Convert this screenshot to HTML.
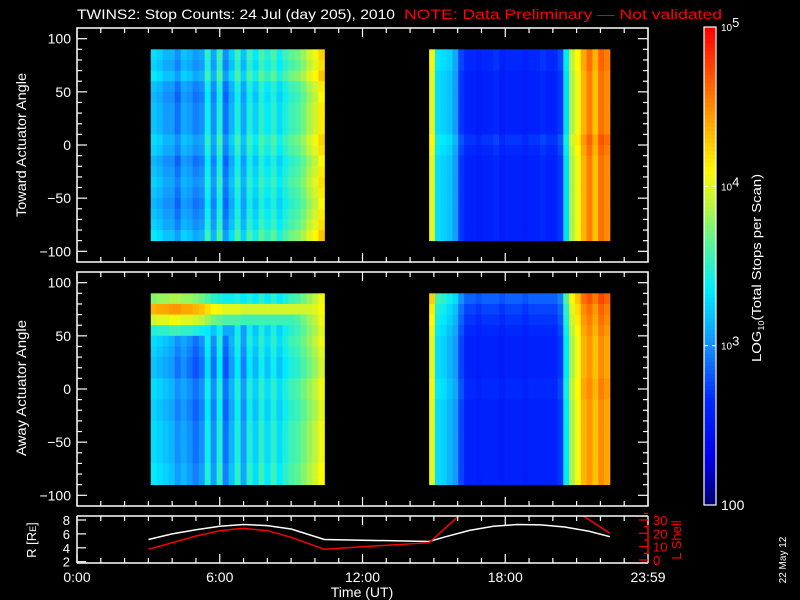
<!DOCTYPE html>
<html><head><meta charset="utf-8"><style>
html,body{margin:0;padding:0;background:#000;}
svg{display:block;font-family:"Liberation Sans",sans-serif;}
</style></head><body>
<svg id="chart" width="800" height="600" viewBox="0 0 800 600" xmlns="http://www.w3.org/2000/svg">
<rect x="0" y="0" width="800" height="600" fill="#000"/>
<text x="77" y="19" fill="#fff" font-size="14" textLength="318" lengthAdjust="spacingAndGlyphs">TWINS2: Stop Counts: 24 Jul (day 205), 2010</text>
<text x="404" y="19" fill="#ff0000" font-size="14" textLength="318" lengthAdjust="spacingAndGlyphs">NOTE: Data Preliminary — Not validated</text>
<g id="p1"></g>
<g id="p2"></g>
<g id="p3"></g>
<g id="cb"></g>
<text transform="translate(26,145) rotate(-90)" text-anchor="middle" fill="#fff" font-size="14" textLength="144" lengthAdjust="spacingAndGlyphs">Toward Actuator Angle</text>
<text transform="translate(26,388) rotate(-90)" text-anchor="middle" fill="#fff" font-size="14" textLength="136" lengthAdjust="spacingAndGlyphs">Away Actuator Angle</text>
<text transform="translate(36,540) rotate(-90)" text-anchor="middle" fill="#fff" font-size="13">R [R<tspan font-size="9">E</tspan>]</text>
<text transform="translate(681,540) rotate(-90)" text-anchor="middle" fill="#ff0000" font-size="13">L Shell</text>
<text x="362" y="597" text-anchor="middle" fill="#fff" font-size="14">Time (UT)</text>
<text transform="translate(786,560) rotate(-90)" text-anchor="middle" fill="#fff" font-size="10">22 May 12</text>
<text transform="translate(761,268) rotate(-90)" text-anchor="middle" fill="#fff" font-size="13" textLength="188" lengthAdjust="spacingAndGlyphs">LOG<tspan font-size="8" dy="3">10</tspan><tspan dy="-3">(Total Stops per Scan)</tspan></text>
</svg>
<script>
// ---------- data ----------
const xTickLabels = ["0:00","6:00","12:00","18:00","23:59"];
const xTickHours = [0,6,12,18,24];
const angleTicks = [100,50,0,-50,-100];
const rTicks = [2,4,6,8];
const lTicks = [0,10,20,30];
const cbTickLabels = ["100","10","10","10"];
const cbTickExps = ["","3","4","5"];
const cbTickValues = [2,3,4,5];

// spectrogram blocks: start hour, end hour, column log10 values
const p1b1Start = 3.1, p1b1End = 10.4;
const p1b1Vals = [3.2,3.15,3.05,3.05,2.9,3.1,3.05,2.95,3.0,3.4,3.0,3.45,2.9,3.15,3.45,3.1,3.45,3.25,3.5,3.35,3.5,3.3,3.45,3.55,3.6,3.7,3.85,3.95,4.15];
const p1b1Rows = [0.1,0.05,0.15,0,-0.05,0,0,0,0.1,0.05,-0.05,0,0.05,0,-0.05,0,0.05,0.15];
const p1b2Start = 14.8, p1b2End = 22.4;
const p1b2Vals = [4.0,3.3,3.25,3.2,3.05,2.7,2.6,2.6,2.55,2.6,2.6,2.65,2.55,2.6,2.6,2.6,2.55,2.6,2.6,2.65,2.6,2.6,2.7,3.3,3.85,4.05,4.35,4.55,4.3,4.6,4.5];
const p1b2Rows = [0.05,0.05,0,0,0,0,0,0,0.1,0.05,0,0,0,0,0,0,0,0];
const p2b1Start = 3.1, p2b1End = 10.4;
const p2b1Vals = [3.3,3.25,3.2,3.15,3.0,3.1,3.0,2.9,3.0,3.4,3.0,3.45,2.9,3.15,3.45,3.05,3.45,3.25,3.5,3.3,3.5,3.3,3.45,3.55,3.6,3.7,3.8,3.9,4.05];
const p2b1Rows = [0,0,0,-0.05,0,-0.05,-0.1,-0.1,0,0,-0.05,-0.05,0,0,0,0,0.05,0.05];
const p2b1Band = [4.35,4.4,4.4,4.45,4.45,4.4,4.4,4.35,4.3,4.2,4.1,4.05,4.0,4.0,4.0,3.95,3.95,3.95,3.95,3.95,3.95,3.95,3.95,3.95,3.95,3.95,3.95,4.0,4.1];
const p2b1BandRows = [-0.6,0,-0.4,-0.9,-5,-5,-5,-5,-5,-5,-5,-5,-5,-5,-5,-5,-5,-5];
const p2b2Start = 14.8, p2b2End = 22.4;
const p2b2Vals = [4.0,3.3,3.25,3.15,3.05,2.75,2.6,2.6,2.55,2.6,2.6,2.6,2.55,2.6,2.6,2.6,2.55,2.6,2.6,2.6,2.6,2.6,2.7,3.35,3.85,4.05,4.35,4.45,4.3,4.5,4.4];
const p2b2Rows = [0.25,0.15,0.1,0.05,0,0,0,0,0.05,0.05,0,0,0,0,0,0,0,0];

// orbit curves
const rHours = [3.0,4,5,6,7,8,9,10.4,12,14.8,15.5,16.5,17.5,18.5,19.5,20.5,21.5,22.4];
const rVals  = [5.2,6.0,6.6,7.1,7.35,7.2,6.7,5.2,5.1,4.9,5.6,6.5,7.1,7.35,7.3,7.0,6.4,5.6];
const lHours = [3.0,4,5,6,7,8,9,10.4,12,14.8,16.1];
const lVals  = [8,13,18,22,23.8,22,17,8,10,13,34];
const l2Hours = [21.2,22.4];
const l2Vals  = [34,20];

// ---------- helpers ----------
const NS="http://www.w3.org/2000/svg";
function mk(tag,attrs,parent){const e=document.createElementNS(NS,tag);for(const k in attrs)e.setAttribute(k,attrs[k]);parent.appendChild(e);return e;}
const X0=77,X1=648;
function xScale(h){return X0+(X1-X0)*h/24;}
const stops=[[0,[0,0,110]],[0.1,[0,0,235]],[0.22,[0,40,255]],[0.33,[20,140,255]],[0.45,[0,235,255]],[0.55,[90,245,150]],[0.63,[190,245,60]],[0.7,[255,250,0]],[0.82,[255,150,0]],[0.95,[255,40,0]],[1,[250,0,0]]];
function color(v){let t=(v-2)/3;t=Math.max(0,Math.min(1,t));for(let i=1;i<stops.length;i++){if(t<=stops[i][0]){const a=stops[i-1],b=stops[i];const f=(t-a[0])/(b[0]-a[0]);const c=a[1].map((x,j)=>Math.round(x+(b[1][j]-x)*f));return `rgb(${c[0]},${c[1]},${c[2]})`;}}return "rgb(250,0,0)";}

function drawPanel(g,top,bottom,blocks,name){
  const yA=a=>top+10.7+(100-a)*(bottom-top-21.4)/200;
  for(const b of blocks){
    const n=b.vals.length, w=(xScale(b.end)-xScale(b.start))/n;
    for(let c=0;c<n;c++){
      for(let r=0;r<18;r++){
        let v=b.vals[c]+b.rows[r];
        if(b.band) v=Math.max(v,b.band[c]+b.bandRows[r]);
        const a0=90-r*10;
        const el=mk('rect',{x:(xScale(b.start)+c*w).toFixed(2),y:yA(a0).toFixed(2),width:(w+0.4).toFixed(2),height:(yA(a0-10)-yA(a0)+0.4).toFixed(2),fill:color(v)},g);
        
        
      }
    }
  }
  const fr=mk('rect',{x:X0,y:top,width:X1-X0,height:bottom-top,fill:'none',stroke:'#fff','stroke-width':1.5},g);
  
  
  for(let h=0;h<=24;h++){
    const x=xScale(h),len=(h%6==0)?9:5;
    mk('line',{x1:x,y1:bottom,x2:x,y2:bottom-len,stroke:'#fff','stroke-width':1.2},g);
    mk('line',{x1:x,y1:top,x2:x,y2:top+len,stroke:'#fff','stroke-width':1.2},g);
  }
  for(let a=-100;a<=100;a+=10){
    const y=yA(a),len=(a%50==0)?10:5;
    mk('line',{x1:X0,y1:y,x2:X0+len,y2:y,stroke:'#fff','stroke-width':1.2},g);
    mk('line',{x1:X1,y1:y,x2:X1-len,y2:y,stroke:'#fff','stroke-width':1.2},g);
  }
  angleTicks.forEach(a=>{
    const t=mk('text',{x:71,y:yA(a)+5,'text-anchor':'end',fill:'#fff','font-size':14},g);
    t.textContent=(a<0?'\u2212':'')+Math.abs(a);
    
    
  });
}

drawPanel(document.getElementById('p1'),28,262,[
 {start:p1b1Start,end:p1b1End,vals:p1b1Vals,rows:p1b1Rows},
 {start:p1b2Start,end:p1b2End,vals:p1b2Vals,rows:p1b2Rows}],'toward-panel');
drawPanel(document.getElementById('p2'),272,506,[
 {start:p2b1Start,end:p2b1End,vals:p2b1Vals,rows:p2b1Rows,band:p2b1Band,bandRows:p2b1BandRows},
 {start:p2b2Start,end:p2b2End,vals:p2b2Vals,rows:p2b2Rows}],'away-panel');

// orbit panel
(function(){
  const g=document.getElementById('p3');
  const T=516,B=563;
  const yR=r=>520+(8-r)*6.95;
  const yL=l=>560-l*1.333;
  const cp=mk('clipPath',{id:'clip3'},g);
  mk('rect',{x:X0,y:T,width:X1-X0,height:B-T},cp);
  const wl=mk('polyline',{points:rHours.map((h,i)=>xScale(h).toFixed(1)+','+yR(rVals[i]).toFixed(1)).join(' '),fill:'none',stroke:'#fff','stroke-width':1.5,'clip-path':'url(#clip3)'},g);
  
  
  const rl=mk('polyline',{points:lHours.map((h,i)=>xScale(h).toFixed(1)+','+yL(lVals[i]).toFixed(1)).join(' '),fill:'none',stroke:'#ff0000','stroke-width':1.5,'clip-path':'url(#clip3)'},g);
  
  
  const rl2=mk('polyline',{points:l2Hours.map((h,i)=>xScale(h).toFixed(1)+','+yL(l2Vals[i]).toFixed(1)).join(' '),fill:'none',stroke:'#ff0000','stroke-width':1.5,'clip-path':'url(#clip3)'},g);
  
  
  mk('line',{x1:X0,y1:T,x2:X1,y2:T,stroke:'#fff','stroke-width':1.5},g);
  mk('line',{x1:X0,y1:B,x2:X1,y2:B,stroke:'#fff','stroke-width':1.5},g);
  mk('line',{x1:X0,y1:T,x2:X0,y2:B,stroke:'#fff','stroke-width':1.5},g);
  mk('line',{x1:X1,y1:T,x2:X1,y2:B,stroke:'#ff0000','stroke-width':1.5},g);
  for(let h=0;h<=24;h++){
    const x=xScale(h),len=(h%6==0)?9:5;
    mk('line',{x1:x,y1:B,x2:x,y2:B-len,stroke:'#fff','stroke-width':1.2},g);
    mk('line',{x1:x,y1:T,x2:x,y2:T+len,stroke:'#fff','stroke-width':1.2},g);
  }
  rTicks.forEach(r=>{
    mk('line',{x1:X0,y1:yR(r),x2:X0+9,y2:yR(r),stroke:'#fff','stroke-width':1.2},g);
    const t=mk('text',{x:70,y:yR(r)+5,'text-anchor':'end',fill:'#fff','font-size':13},g);
    t.textContent=r;
    
    
  });
  lTicks.forEach(l=>{
    mk('line',{x1:X1,y1:yL(l),x2:X1-9,y2:yL(l),stroke:'#ff0000','stroke-width':1.2},g);
    mk('line',{x1:X1,y1:yL(l+5),x2:X1-4,y2:yL(l+5),stroke:'#ff0000','stroke-width':1.2},g);
    const t=mk('text',{x:653,y:yL(l)+5,fill:'#ff0000','font-size':13},g);
    t.textContent=l;
    
    
  });
  xTickLabels.forEach((s,i)=>{
    const t=mk('text',{x:xScale(xTickHours[i]),y:582,'text-anchor':'middle',fill:'#fff','font-size':14},g);
    t.textContent=s;
    
    
  });
})();

// colorbar
(function(){
  const g=document.getElementById('cb');
  const T=27,B=505,L=704,W=12;
  const yC=v=>B-(v-2)*(B-T)/3;
  for(let i=0;i<120;i++){
    const v=2+3*i/120;
    const r=mk('rect',{x:L,y:(yC(v+3/120)).toFixed(2),width:W,height:((B-T)/120+0.5).toFixed(2),fill:color(v+1.5/120)},g);
    
    
  }
  mk('rect',{x:L,y:T,width:W,height:B-T,fill:'none',stroke:'#fff','stroke-width':1.2},g);
  cbTickValues.forEach((v,i)=>{
    if(v==3||v==4){
      mk('line',{x1:L,y1:yC(v),x2:L+4,y2:yC(v),stroke:'#fff','stroke-width':1},g);
      mk('line',{x1:L+W-4,y1:yC(v),x2:L+W,y2:yC(v),stroke:'#fff','stroke-width':1},g);
    }
    const t=mk('text',{x:721,y:yC(v)+(v==2?5:4),fill:'#fff','font-size':v==2?14:10},g);
    t.textContent=cbTickLabels[i];
    if(cbTickExps[i]){const s=mk('tspan',{dy:-4,'font-size':13},t);s.textContent=cbTickExps[i];}
    
    
  });
})();
</script>
</body></html>
